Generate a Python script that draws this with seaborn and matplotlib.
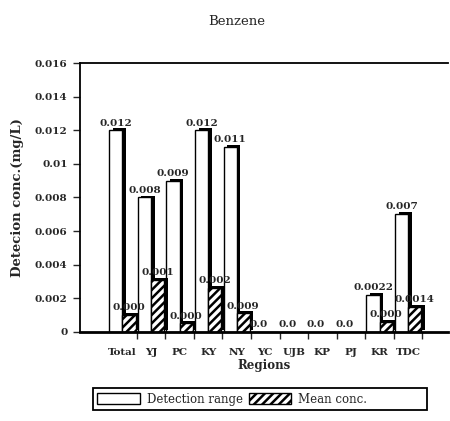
import matplotlib
matplotlib.use("Agg")
import matplotlib.pyplot as plt
import matplotlib.patheffects as pe
from matplotlib.patches import Patch
from matplotlib.ticker import FixedLocator, FixedFormatter
import seaborn as sns
import pandas as pd

regions = ["Total", "YJ", "PC", "KY", "NY", "YC", "UJB", "KP", "PJ", "KR", "TDC"]
detection_range = [0.012, 0.008, 0.009, 0.012, 0.011, 0.0, 0.0, 0.0, 0.0, 0.0022, 0.007]
mean_conc = [0.001, 0.0031, 0.0005, 0.0026, 0.0011, 0.0, 0.0, 0.0, 0.0, 0.0006, 0.0015]
detection_labels = ["0.012", "0.008", "0.009", "0.012", "0.011", "0.0", "0.0", "0.0", "0.0", "0.0022", "0.007"]
mean_labels = ["0.000", "0.001", "0.000", "0.002", "0.009", "", "", "", "", "0.000", "0.0014"]
series_names = ["Detection range", "Mean conc."]
ytick_values = [0, 0.002, 0.004, 0.006, 0.008, 0.01, 0.012, 0.014, 0.016]
ytick_labels = ["0", "0.002", "0.004", "0.006", "0.008", "0.01", "0.012", "0.014", "0.016"]

df = pd.DataFrame({
    "Region": regions * 2,
    "value": detection_range + mean_conc,
    "Series": [series_names[0]] * len(regions) + [series_names[1]] * len(regions),
})

sns.set_theme(style="white")
plt.rcParams["font.family"] = ["DejaVu Serif"]
plt.rcParams["hatch.linewidth"] = 1.8

fig = plt.figure(figsize=(4.5, 4.21), dpi=100)
ax = fig.add_axes([0.178, 0.212, 0.818, 0.638])

sns.barplot(data=df, x="Region", y="value", hue="Series", order=regions,
            hue_order=series_names, palette=["white", "white"], edgecolor="black",
            linewidth=1.0, width=0.92, gap=0, saturation=1, legend=False, ax=ax)

shadow = [pe.SimplePatchShadow(offset=(2.6, 1.4), shadow_rgbFace="black", alpha=1), pe.Normal()]
for i, cont in enumerate(ax.containers):
    for bar in cont:
        bar.set_path_effects(shadow)
        if i == 1:
            bar.set_hatch("////")

ax.bar_label(ax.containers[0], labels=detection_labels, padding=2, fontsize=7.5, fontweight="bold")
ax.bar_label(ax.containers[1], labels=mean_labels, padding=2, fontsize=7.5, fontweight="bold")

ax.set_ylim(0, 0.016)
ax.set_xlim(-1.48, 11.4)
ax.yaxis.set_major_locator(FixedLocator(ytick_values))
ax.yaxis.set_major_formatter(FixedFormatter(ytick_labels))
ax.tick_params(axis="y", direction="out", length=5, width=1, labelsize=7.5, left=True, pad=4)
for t in ax.get_yticklabels():
    t.set_fontweight("bold")
ax.set_xticks(range(len(regions)))
ax.set_xticklabels(regions, fontsize=7.5, fontweight="bold")
ax.tick_params(axis="x", which="major", length=0, pad=12)
ax.set_xticks([k + 0.5 for k in range(len(regions))], minor=True)
ax.tick_params(axis="x", which="minor", direction="out", length=5, width=1, bottom=True)

for side in ["left", "top", "bottom", "right"]:
    ax.spines[side].set_visible(True)
    ax.spines[side].set_color("black")
    ax.spines[side].set_linewidth(1.3)
ax.spines["right"].set_visible(False)
ax.spines["bottom"].set_linewidth(2.0)

ax.set_xlabel("Regions", fontsize=8.5, fontweight="bold", labelpad=1)
ax.set_ylabel("Detecion conc.(mg/L)", fontsize=9.5, fontweight="bold", labelpad=8)
fig.suptitle("Benzene", x=0.525, y=0.965, fontsize=9.5)

handles = [Patch(facecolor="white", edgecolor="black", linewidth=1.0),
           Patch(facecolor="white", edgecolor="black", hatch="////", linewidth=1.0),
           Patch(facecolor="none", edgecolor="none")]
leg = fig.legend(handles, series_names + [""], loc="lower left", bbox_to_anchor=(0.207, 0.027),
                 ncol=3, frameon=True, fancybox=False, edgecolor="black", framealpha=1,
                 fontsize=8.5, handlelength=3.6, handleheight=1.1, columnspacing=0.5,
                 handletextpad=0.6, borderpad=0.35, borderaxespad=0)
leg.get_frame().set_linewidth(1.3)

fig.savefig("out.png", dpi=100)
